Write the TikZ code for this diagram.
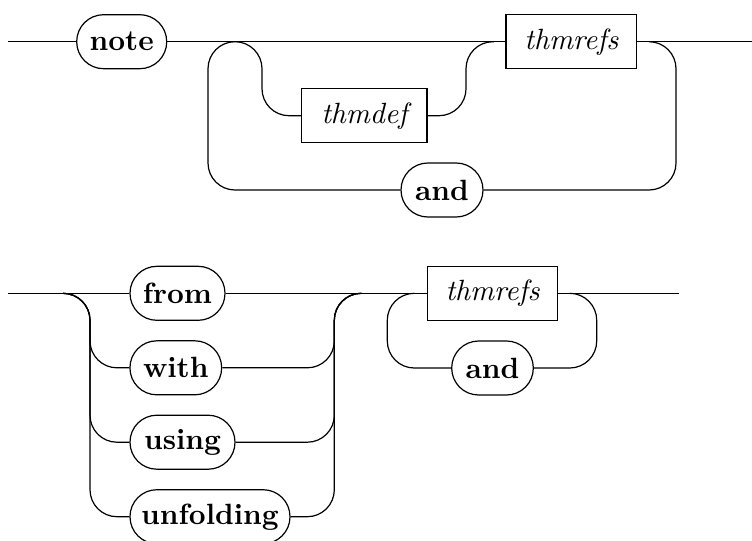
\documentclass[tikz,border=0pt]{standalone}
\usepackage{fontspec}
\def\u{0.3413pt}
\begin{document}
\begin{tikzpicture}[x=\u,y=-\u,line width=1.2*\u,
  term/.style={draw,rounded corners=26.9*\u,minimum height=54*\u,inner sep=0pt,font=\bfseries},
  nonterm/.style={draw,rectangle,minimum height=54*\u,inner sep=0pt,font=\itshape},
  rr/.style={rounded corners=27*\u}]
\useasboundingbox (0,0) rectangle (752,540);
% ---- top diagram ----
\node[term,minimum width=90*\u] (note) at (121.7,41.7) {note};
\node[nonterm,minimum width=125.3*\u] (thmdef) at (364.3,115.7) {thmdef};
\node[nonterm,minimum width=130.7*\u] (thmrefs) at (571.3,41.7) {thmrefs};
\node[term,minimum width=82*\u] (and) at (442,190) {and};
\coordinate (s1) at (8,41.7);
\coordinate (e1) at (752,41.7);
\coordinate (j1) at (235,41.7);
\coordinate (j2) at (494,41.7);
\coordinate (j3) at (649,41.7);
\draw (s1) -- (note.west);
\draw (note.east) -- (thmrefs.west);
\draw (thmrefs.east) -- (e1);
\draw[rr] (j1) -| (262,115.7) -- (thmdef.west);
\draw[rr] (thmdef.east) -| (466,41.7) -- (j2);
\draw[rr] (and.west) -| (208,41.7) -- (j1);
\draw[rr] (and.east) -| (676,41.7) -- (j3);
% ---- bottom diagram ----
\node[term,minimum width=95*\u] (from) at (177.5,293.3) {from};
\node[term,minimum width=91.7*\u] (with) at (175.8,367.8) {with};
\node[term,minimum width=105*\u] (using) at (182.5,442.2) {using};
\node[term,minimum width=160*\u] (unfolding) at (210,516.7) {unfolding};
\node[nonterm,minimum width=130.4*\u] (thmrefsb) at (492.5,293.3) {thmrefs};
\node[term,minimum width=81.6*\u] (andb) at (492.5,368) {and};
\coordinate (s2) at (8,293.3);
\coordinate (e2) at (678.7,293.3);
\coordinate (k1) at (63,293.3);
\coordinate (k2) at (361.3,293.3);
\coordinate (k3) at (414.3,293.3);
\coordinate (k4) at (569.7,293.3);
\draw (s2) -- (from.west);
\draw (from.east) -- (thmrefsb.west);
\draw (thmrefsb.east) -- (e2);
\foreach \n/\y in {with/367.8,using/442.2,unfolding/516.7}{
  \draw[rr] (k1) -| (90,\y) -- (\n.west);
  \draw[rr] (\n.east) -| (334.3,293.3) -- (k2);
}
\draw[rr] (andb.west) -| (387.3,293.3) -- (k3);
\draw[rr] (andb.east) -| (596.7,293.3) -- (k4);
\end{tikzpicture}
\end{document}
